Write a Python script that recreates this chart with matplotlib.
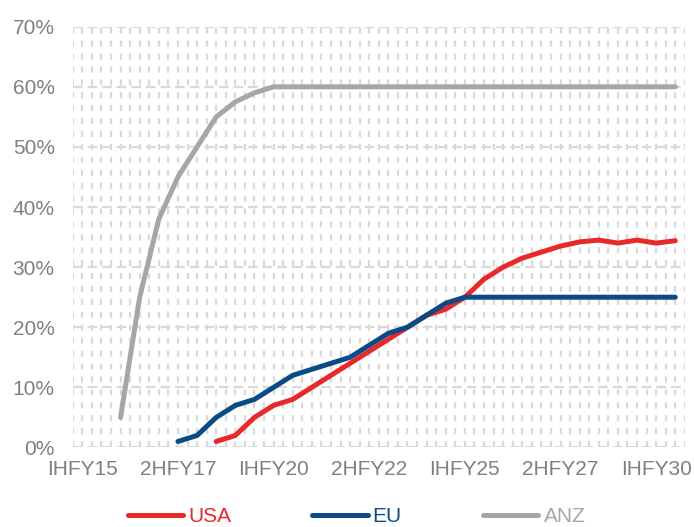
import numpy as np
import matplotlib
matplotlib.use("Agg")
import matplotlib.pyplot as plt

# half-year periods on the x axis
periods = ["IHFY15", "2HFY15", "IHFY16", "2HFY16", "IHFY17", "2HFY17", "IHFY18", "2HFY18",
           "IHFY19", "2HFY19", "IHFY20", "2HFY20", "IHFY21", "2HFY21", "IHFY22", "2HFY22",
           "IHFY23", "2HFY23", "IHFY24", "2HFY24", "IHFY25", "2HFY25", "IHFY26", "2HFY26",
           "IHFY27", "2HFY27", "IHFY28", "2HFY28", "IHFY29", "2HFY29", "IHFY30", "2HFY30"]

nan = np.nan
# penetration in %, nan = no value yet
usa = [nan, nan, nan, nan, nan, nan, nan, 1, 2, 5, 7, 8, 10, 12, 14, 16,
       18, 20, 22, 23, 25, 28, 30, 31.5, 32.5, 33.5, 34.2, 34.5, 34, 34.5, 34, 34.4]
eu = [nan, nan, nan, nan, nan, 1, 2, 5, 7, 8, 10, 12, 13, 14, 15, 17,
      19, 20, 22, 24, 25, 25, 25, 25, 25, 25, 25, 25, 25, 25, 25, 25]
anz = [nan, nan, 5, 25, 38, 45, 50, 55, 57.5, 59, 60, 60, 60, 60, 60, 60,
       60, 60, 60, 60, 60, 60, 60, 60, 60, 60, 60, 60, 60, 60, 60, 60]

series = [("USA", usa, "#e8282b"), ("EU", eu, "#0a4a85"), ("ANZ", anz, "#a6a6a6")]

plt.rcParams["font.family"] = ["Liberation Sans", "DejaVu Sans"]
plt.rcParams["lines.scale_dashes"] = False

fig = plt.figure(figsize=(6.94, 5.27), dpi=100)
ax = fig.add_axes([0.1048, 0.1509, 0.882, 0.7984])

x = np.arange(len(periods))
for name, vals, col in series:
    ax.plot(x, vals, color=col, lw=3.6, solid_capstyle="round", solid_joinstyle="round", label=name)

ax.set_xlim(-0.5, len(periods) - 0.5)
ax.set_ylim(0, 70)
ax.set_yticks(range(0, 71, 10))
ax.set_yticklabels([f"{v}%" for v in range(0, 71, 10)])
ax.set_xticks(x[::5])
ax.set_xticklabels(periods[::5])
ax.set_xticks(np.arange(-0.5, len(periods), 0.5), minor=True)

ax.grid(axis="x", which="both", color="#d9d9d9", lw=1.6, dashes=(4.3, 5.0))
ax.grid(axis="y", which="major", color="#d9d9d9", lw=1.6, dashes=(7, 3.5))
ax.set_axisbelow(True)
for s in ax.spines.values():
    s.set_visible(False)
ax.tick_params(axis="both", which="both", length=0, labelsize=15, colors="#7f7f7f")
ax.tick_params(axis="y", pad=13)
ax.tick_params(axis="x", pad=9)

fig.legend(loc="center", bbox_to_anchor=(356.5 / 694, 0.02), ncol=3, frameon=False,
           fontsize=15, handlelength=2.65, handletextpad=0.25, columnspacing=3.9,
           borderpad=0, labelcolor=[c for _, _, c in series])

fig.savefig("out.png", dpi=100)
